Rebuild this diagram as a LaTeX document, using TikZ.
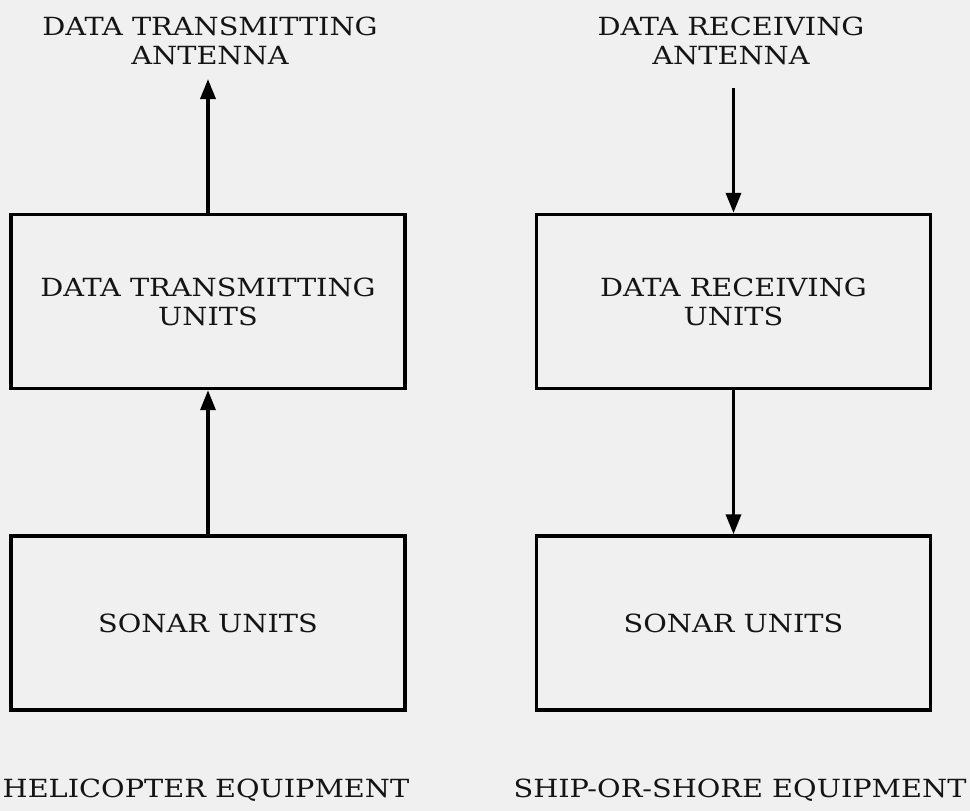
\documentclass[tikz,border=0pt]{standalone}
\usepackage{fontspec}
\setmainfont[FakeStretch=1.15]{DejaVu Serif}
\usetikzlibrary{arrows.meta}
\begin{document}
\begin{tikzpicture}[x=1pt,y=-1pt,
  lettering/.style={font=\fontsize{25}{29}\selectfont, text=black!92},
  unitbox/.style={draw, line width=3.4pt, minimum width=394pt, minimum height=174pt,
    align=center, inner sep=0pt, lettering},
  heading/.style={align=center, inner sep=0pt, lettering},
  caption/.style={inner sep=0pt, lettering},
  flow/.style={line width=3.4pt, -{Triangle[length=20pt,width=15pt]}}]
  % page
  \fill[black!6] (0,0) rectangle (970,811);
  \useasboundingbox (0,0) rectangle (970,811);

  % antenna headings
  \node[heading] (txant) at (210,41) {DATA TRANSMITTING\\ANTENNA};
  \node[heading] (rxant) at (731,41) {DATA RECEIVING\\ANTENNA};

  % equipment blocks
  \node[unitbox] (txu) at (208,301.5) {DATA TRANSMITTING\\UNITS};
  \node[unitbox] (rxu) at (733.5,301.5) {DATA RECEIVING\\UNITS};
  \node[unitbox] (sonh) at (208,623) {SONAR UNITS};
  \node[unitbox] (sons) at (733.5,623) {SONAR UNITS};

  % free ends of the antenna links
  \coordinate (txtip) at (txu.north |- 0,79);
  \coordinate (rxtop) at (rxu.north |- 0,88);

  % signal flow
  \draw[flow] (txu.north) -- (txtip);
  \draw[flow] (sonh.north) -- (txu.south);
  \draw[flow] (rxtop) -- (rxu.north);
  \draw[flow] (rxu.south) -- (sons.north);

  % side captions
  \node[caption] (helo) at (206,790) {HELICOPTER EQUIPMENT};
  \node[caption] (ship) at (740,790) {SHIP-OR-SHORE EQUIPMENT};
\end{tikzpicture}
\end{document}
